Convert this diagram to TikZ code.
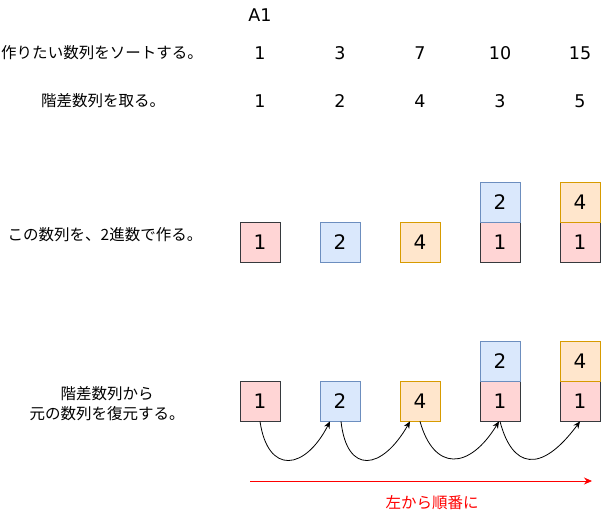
\documentclass[tikz,border=0pt]{standalone}
\usepackage{fontspec}
\setmainfont{DejaVu Sans}
\newfontfamily\jp{Noto Sans CJK JP}
\usetikzlibrary{arrows.meta}
\definecolor{rfill}{HTML}{FFD5D5}
\definecolor{rdraw}{HTML}{36393D}
\definecolor{bfill}{HTML}{DAE8FC}
\definecolor{bdraw}{HTML}{6C8EBF}
\definecolor{ofill}{HTML}{FFE6CC}
\definecolor{odraw}{HTML}{D79B00}
\definecolor{redline}{HTML}{FF0000}
\tikzset{
  cell/.style={minimum width=40pt,minimum height=40pt,inner sep=0pt,line width=0.8pt,font=\fontsize{20}{20}\selectfont},
  rc/.style={cell,fill=rfill,draw=rdraw},
  bc/.style={cell,fill=bfill,draw=bdraw},
  oc/.style={cell,fill=ofill,draw=odraw},
  num/.style={font=\fontsize{17.5}{17.5}\selectfont,inner sep=0pt},
  lbl/.style={font=\jp\fontsize{15.5}{20}\selectfont,inner sep=0pt,align=center},
  link/.style={-{Stealth[length=7pt,width=6pt]},line width=0.8pt,black},
}
\begin{document}
\begin{tikzpicture}[x=1pt,y=-1pt]
\useasboundingbox (0,0) rectangle (601,512);
% header
\node[num] (a1) at (260,15) {A1};
\node[lbl] (l1) at (102,53) {作りたい数列をソートする。};
\node[lbl] (l2) at (103,101) {階差数列を取る。};
\foreach \x/\v [count=\i] in {260/1,340/3,420/7,500/10,580/15} {\node[num] (s\i) at (\x,53) {\v};}
\foreach \x/\v [count=\i] in {260/1,340/2,420/4,500/3,580/5} {\node[num] (d\i) at (\x,101) {\v};}
% binary rows
\node[lbl] (l3) at (105,235) {この数列を、2進数で作る。};
\node[rc] (p1) at (260,242) {1};
\node[bc] (p2) at (340,242) {2};
\node[oc] (p3) at (420,242) {4};
\node[rc] (p4) at (500,242) {1};
\node[bc] (p4t) at (500,202) {2};
\node[rc] (p5) at (580,242) {1};
\node[oc] (p5t) at (580,202) {4};
% restore row
\node[lbl] (l4) at (107,404) {階差数列から\\元の数列を復元する。};
\node[rc] (q1) at (260,401) {1};
\node[bc] (q2) at (340,401) {2};
\node[oc] (q3) at (420,401) {4};
\node[rc] (q4) at (500,401) {1};
\node[bc] (q4t) at (500,361) {2};
\node[rc] (q5) at (580,401) {1};
\node[oc] (q5t) at (580,361) {4};
% curved arrows
\draw[link] (q1.south) .. controls +(8,54) and +(-25,49) .. ([xshift=-10pt]q2.south);
\draw[link] ([xshift=1pt]q2.south) .. controls +(6,54) and +(-28,49) .. ([xshift=-10pt]q3.south);
\draw[link] (q3.south) .. controls +(14,50) and +(-30,49) .. ([xshift=-1pt]q4.south);
\draw[link] (q4.south) .. controls +(12,46) and +(-40,54) .. (q5.south);
% red arrow
\coordinate (r0) at (250,481);
\coordinate (r1) at (592,481);
\draw[-{Stealth[length=8pt,width=7pt]},redline,line width=0.8pt] (r0) -- (r1);
\node[lbl,text=redline] (l5) at (432,503) {左から順番に};
\end{tikzpicture}
\end{document}
